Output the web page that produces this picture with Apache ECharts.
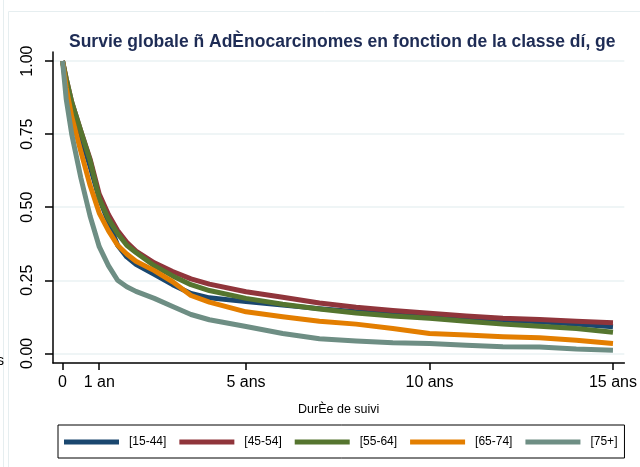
<!DOCTYPE html>
<html>
<head>
<meta charset="utf-8">
<script src="https://cdn.jsdelivr.net/npm/echarts@6/dist/echarts.min.js"></script>
<style>
  html, body { margin: 0; padding: 0; background: #ffffff; }
  #chart { width: 640px; height: 467px; }
</style>
</head>
<body>
<div id="chart"></div>
<script>
// Survival time in years
const times = [0, 0.1, 0.25, 0.5, 0.75, 1, 1.25, 1.5, 1.75, 2, 2.5, 3, 3.5, 4, 5, 6, 7, 8, 9, 10, 11, 12, 13, 14, 15];

// Survival probability per age class
const surv1544 = [1, 0.93, 0.85, 0.74, 0.64, 0.53, 0.45, 0.37, 0.33, 0.305, 0.27, 0.235, 0.205, 0.19, 0.177, 0.165, 0.153, 0.142, 0.133, 0.125, 0.12, 0.114, 0.108, 0.1, 0.091];
const surv4554 = [1, 0.94, 0.86, 0.76, 0.665, 0.545, 0.475, 0.42, 0.38, 0.35, 0.31, 0.28, 0.255, 0.237, 0.211, 0.192, 0.172, 0.158, 0.147, 0.137, 0.128, 0.12, 0.116, 0.11, 0.105];
const surv5564 = [1, 0.94, 0.86, 0.76, 0.66, 0.53, 0.46, 0.41, 0.37, 0.345, 0.3, 0.265, 0.235, 0.215, 0.188, 0.168, 0.152, 0.138, 0.128, 0.12, 0.11, 0.1, 0.093, 0.085, 0.072];
const surv6574 = [1, 0.91, 0.81, 0.69, 0.575, 0.48, 0.42, 0.37, 0.34, 0.315, 0.283, 0.245, 0.198, 0.175, 0.142, 0.125, 0.11, 0.1, 0.085, 0.068, 0.063, 0.057, 0.053, 0.045, 0.034];
const surv75 = [1, 0.87, 0.75, 0.6, 0.47, 0.365, 0.3, 0.25, 0.228, 0.212, 0.188, 0.16, 0.133, 0.115, 0.092, 0.068, 0.05, 0.042, 0.036, 0.034, 0.028, 0.023, 0.022, 0.015, 0.011];

const seriesNames = ['[15-44]', '[45-54]', '[55-64]', '[65-74]', '[75+]'];
const seriesColors = ['#1a476f', '#90353b', '#55752f', '#e37e00', '#6e8e84'];

const xTickValues = [0, 1, 5, 10, 15];
const xTickLabels = ['0', '1 an', '5 ans', '10 ans', '15 ans'];
const yTickValues = [0, 0.25, 0.5, 0.75, 1];
const yTickLabels = ['0.00', '0.25', '0.50', '0.75', '1.00'];

const allSurv = [surv1544, surv4554, surv5564, surv6574, surv75];

const font = '"Liberation Sans", Arial, sans-serif';

const chart = echarts.init(document.getElementById('chart'), null, { renderer: 'canvas' });

chart.setOption({
  animation: false,
  backgroundColor: '#ffffff',
  title: {
    text: 'Survie globale ñ AdÈnocarcinomes en fonction de la classe dí, ge',
    left: 64,
    top: 28,
    textStyle: { fontFamily: font, fontSize: 17.5, fontWeight: 'bold', color: '#1e2c55' }
  },
  grid: { left: 53, right: 12, top: 52, bottom: 104, containLabel: false },
  xAxis: {
    type: 'value',
    min: -0.26,
    max: 15.31,
    name: 'DurÈe de suivi',
    nameLocation: 'middle',
    nameGap: 40,
    nameTextStyle: { fontFamily: font, fontSize: 12.5, color: '#000' },
    axisLine: { show: true, onZero: false, lineStyle: { color: '#000', width: 1.5 } },
    axisTick: { show: true, length: 7, customValues: xTickValues, lineStyle: { color: '#000', width: 1.5 } },
    axisLabel: {
      customValues: xTickValues,
      margin: 12,
      fontFamily: font, fontSize: 16, color: '#000',
      formatter: v => xTickLabels[xTickValues.indexOf(v)]
    },
    splitLine: { show: false }
  },
  yAxis: {
    type: 'value',
    min: -0.033,
    max: 1.031,
    axisLine: { show: true, onZero: false, lineStyle: { color: '#000', width: 1.5 } },
    axisTick: { show: true, length: 8, customValues: yTickValues, lineStyle: { color: '#000', width: 1.5 } },
    axisLabel: {
      customValues: yTickValues,
      rotate: 90,
      margin: 17,
      fontFamily: font, fontSize: 16, color: '#000',
      formatter: v => yTickLabels[yTickValues.indexOf(v)]
    },
    splitLine: { show: true, lineStyle: { color: '#eaf2f3', width: 1.5 } }
  },
  legend: {
    bottom: 9,
    left: 58,
    data: seriesNames,
    icon: 'rect',
    itemWidth: 55,
    itemHeight: 5,
    itemGap: 13,
    padding: [11, 7, 10, 6],
    borderColor: '#000',
    borderWidth: 1,
    textStyle: { fontFamily: font, fontSize: 12, color: '#000', padding: [0, 0, 0, 5] }
  },
  graphic: [
    { type: 'line', shape: { x1: 3.5, y1: 0, x2: 3.5, y2: 467 }, style: { stroke: '#e6eef0', lineWidth: 1 } },
    { type: 'line', shape: { x1: 8.5, y1: 11.5, x2: 8.5, y2: 467 }, style: { stroke: '#e6eef0', lineWidth: 1 } },
    { type: 'line', shape: { x1: 8.5, y1: 11.5, x2: 640, y2: 11.5 }, style: { stroke: '#e6eef0', lineWidth: 1 } },
    { type: 'text', left: -3, top: 354, style: { text: 's', font: '14px "Liberation Sans", Arial, sans-serif', fill: '#000' } }
  ],
  series: seriesNames.map((name, i) => ({
    name: name,
    type: 'line',
    data: times.map((t, k) => [t, allSurv[i][k]]),
    showSymbol: false,
    symbol: 'none',
    smooth: false,
    lineStyle: { color: seriesColors[i], width: 5, join: 'round' },
    itemStyle: { color: seriesColors[i] },
    z: 2 + i
  }))
});
</script>
</body>
</html>
